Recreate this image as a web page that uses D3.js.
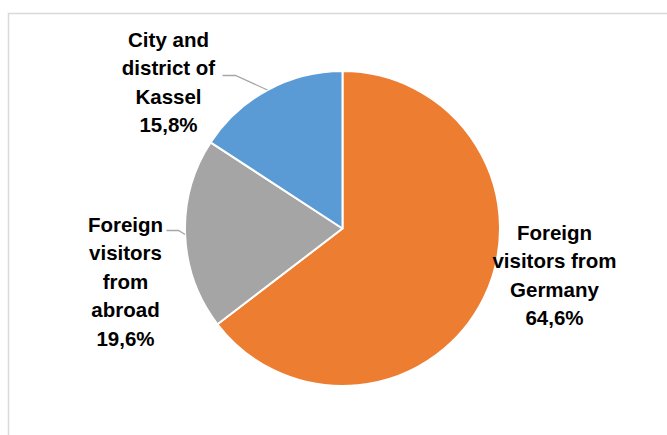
<!DOCTYPE html>
<html>
<head>
<meta charset="utf-8">
<script src="https://cdn.jsdelivr.net/npm/d3@7"></script>
<style>
  body { margin: 0; background: #fff; }
  svg { display: block; }
  text { font-family: "Liberation Sans", Arial, sans-serif; font-weight: bold; fill: #000; }
</style>
</head>
<body>
<svg width="667" height="435"></svg>
<script>
// data
const categories = ['Foreign visitors from Germany', 'Foreign visitors from abroad', 'City and district of Kassel'];
const values = [64.6, 19.6, 15.8];
const colors = ['#ED7D31', '#A5A5A5', '#5B9BD5'];
// label text lines, per slice
const labelLines = [
  ['Foreign', 'visitors from', 'Germany', '64,6%'],
  ['Foreign', 'visitors', 'from', 'abroad', '19,6%'],
  ['City and', 'district of', 'Kassel', '15,8%']
];

function drawPie() {
  const svg = d3.select('svg');
  const width = +svg.attr('width');

  // chart area frame (runs off the right/bottom edge of the shot)
  svg.append('rect')
    .attr('x', 8.5).attr('y', 13.5)
    .attr('width', width + 20).attr('height', 500)
    .attr('fill', '#fff')
    .attr('stroke', '#d9d9d9')
    .attr('stroke-width', 1.5);

  const cx = 342.5, cy = 228.5, r = 157.5;
  const g = svg.append('g').attr('transform', `translate(${cx},${cy})`);

  const pie = d3.pie().sort(null).value(d => d);
  const arcs = pie(values);
  const arc = d3.arc().innerRadius(0).outerRadius(r);

  g.selectAll('path.slice')
    .data(arcs)
    .enter().append('path')
    .attr('class', 'slice')
    .attr('d', arc)
    .attr('fill', (d, i) => colors[i])
    .attr('stroke', '#fff')
    .attr('stroke-width', 2)
    .attr('stroke-linejoin', 'round');

  // label placement relative to pie centre: centre x, first baseline, optional leader line
  const labelPos = [
    { x: 212, y: 11 },
    { x: -217, y: 3, leader: { x0: -176, x1: -164, y: 2 } },
    { x: -174, y: -182, leader: { x0: -120, x1: -107, y: -153 } }
  ];
  const lineH = 28.5;

  arcs.forEach((d, i) => {
    const p = labelPos[i];
    const mid = (d.startAngle + d.endAngle) / 2;
    const ex = r * Math.sin(mid), ey = -r * Math.cos(mid);
    if (p.leader) {
      const l = p.leader;
      g.append('polyline')
        .attr('points', `${l.x0},${l.y} ${l.x1},${l.y} ${ex},${ey}`)
        .attr('fill', 'none')
        .attr('stroke', '#a6a6a6')
        .attr('stroke-width', 1.3);
    }
    const t = g.append('text')
      .attr('text-anchor', 'middle')
      .attr('font-size', 20.5);
    labelLines[i].forEach((s, j) => {
      t.append('tspan')
        .attr('x', p.x)
        .attr('y', p.y + j * lineH)
        .text(s);
    });
  });
}

drawPie();
</script>
</body>
</html>
